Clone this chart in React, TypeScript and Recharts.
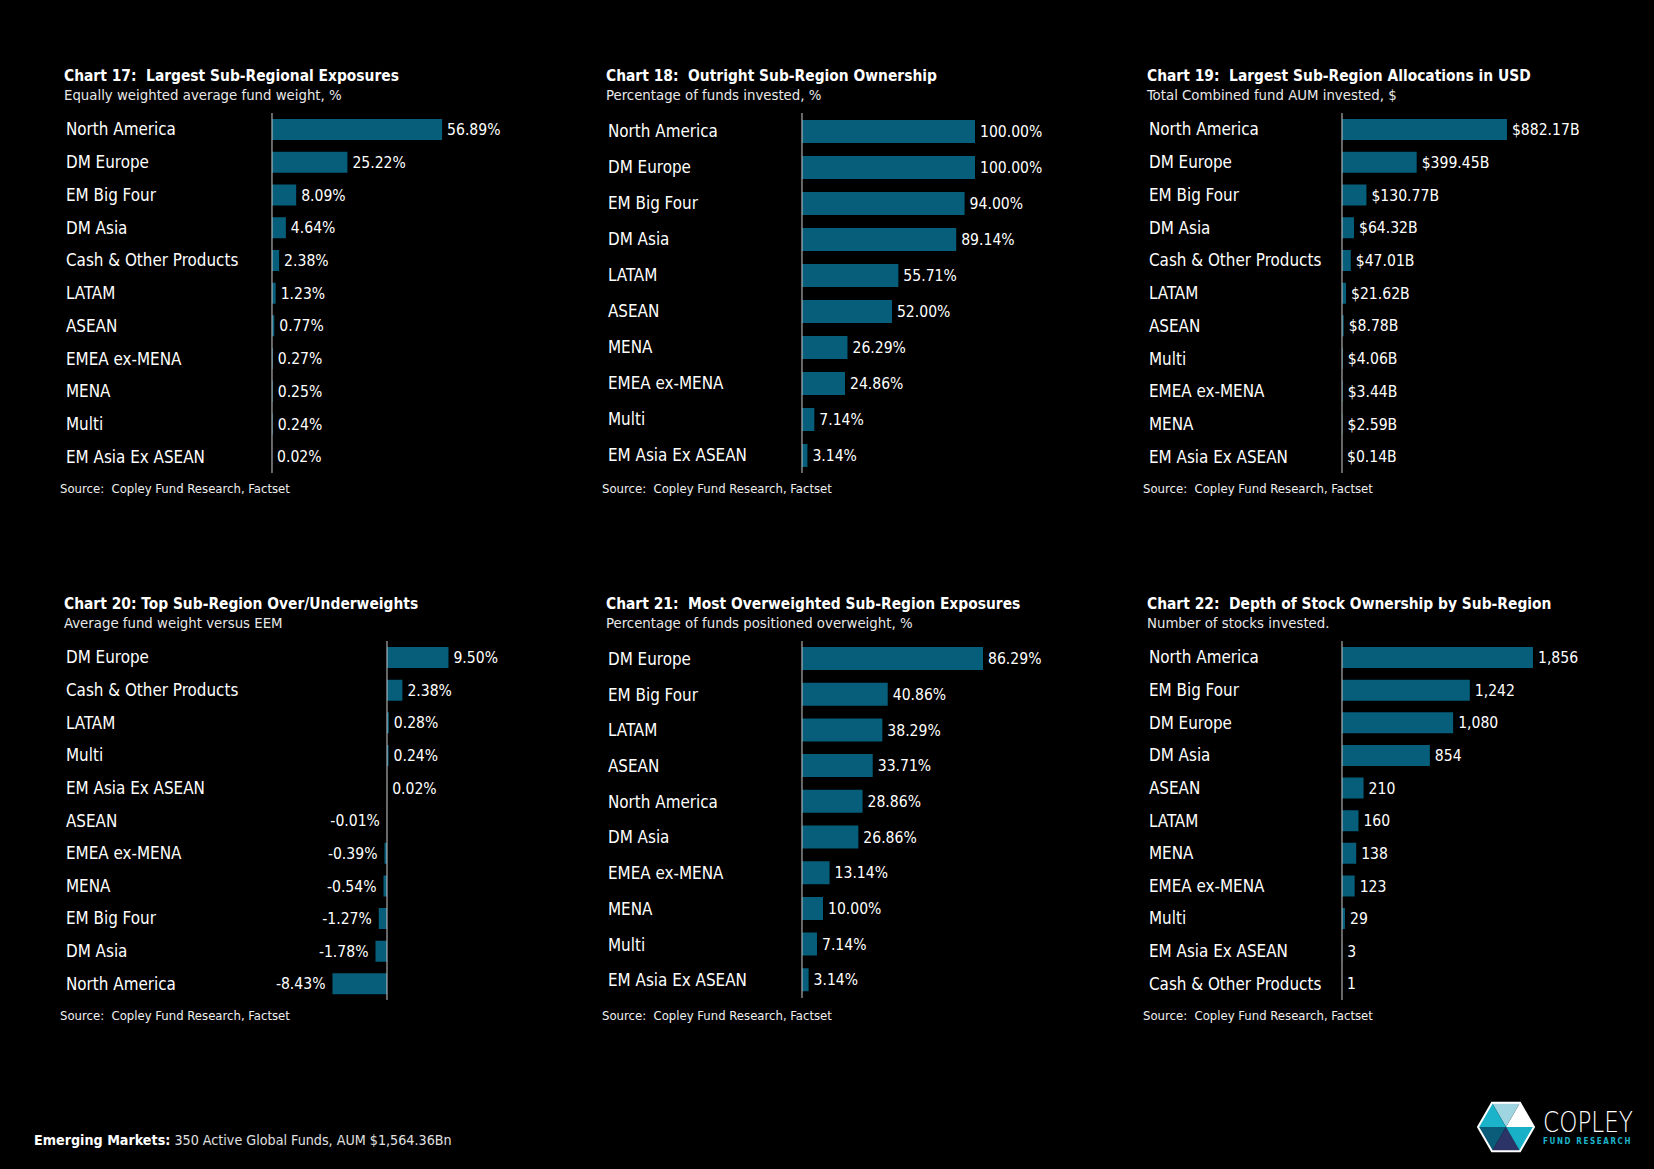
import React from "react"
import { Bar, BarChart, LabelList, ReferenceLine, XAxis, YAxis } from "recharts"

const BAR_FILL = "#065e7b"
const AXIS_LINE = "#cfcfcf"
const FONT = "'DejaVu Sans Condensed', 'DejaVu Sans', sans-serif"

// Chart 17: equally weighted average fund weight, %
const c17Names = ["North America", "DM Europe", "EM Big Four", "DM Asia", "Cash & Other Products", "LATAM", "ASEAN", "EMEA ex-MENA", "MENA", "Multi", "EM Asia Ex ASEAN"]
const c17Values = [56.89, 25.22, 8.09, 4.64, 2.38, 1.23, 0.77, 0.27, 0.25, 0.24, 0.02]

// Chart 18: percentage of funds invested, %
const c18Names = ["North America", "DM Europe", "EM Big Four", "DM Asia", "LATAM", "ASEAN", "MENA", "EMEA ex-MENA", "Multi", "EM Asia Ex ASEAN"]
const c18Values = [100, 100, 94.0, 89.14, 55.71, 52.0, 26.29, 24.86, 7.14, 3.14]

// Chart 19: total combined fund AUM invested, $B
const c19Names = ["North America", "DM Europe", "EM Big Four", "DM Asia", "Cash & Other Products", "LATAM", "ASEAN", "Multi", "EMEA ex-MENA", "MENA", "EM Asia Ex ASEAN"]
const c19Values = [882.17, 399.45, 130.77, 64.32, 47.01, 21.62, 8.78, 4.06, 3.44, 2.59, 0.14]

// Chart 20: average fund weight versus EEM, %
const c20Names = ["DM Europe", "Cash & Other Products", "LATAM", "Multi", "EM Asia Ex ASEAN", "ASEAN", "EMEA ex-MENA", "MENA", "EM Big Four", "DM Asia", "North America"]
const c20Values = [9.5, 2.38, 0.28, 0.24, 0.02, -0.01, -0.39, -0.54, -1.27, -1.78, -8.43]

// Chart 21: percentage of funds positioned overweight, %
const c21Names = ["DM Europe", "EM Big Four", "LATAM", "ASEAN", "North America", "DM Asia", "EMEA ex-MENA", "MENA", "Multi", "EM Asia Ex ASEAN"]
const c21Values = [86.29, 40.86, 38.29, 33.71, 28.86, 26.86, 13.14, 10.0, 7.14, 3.14]

// Chart 22: number of stocks invested
const c22Names = ["North America", "EM Big Four", "DM Europe", "DM Asia", "ASEAN", "LATAM", "MENA", "EMEA ex-MENA", "Multi", "EM Asia Ex ASEAN", "Cash & Other Products"]
const c22Values = [1856, 1242, 1080, 854, 210, 160, 138, 123, 29, 3, 1]

const pct = (v: number) => `${v.toFixed(2)}%`
const usd = (v: number) => `$${v.toFixed(2)}B`
const count = (v: number) => v.toLocaleString("en-US")

const ROWS = {
    top: { titleTop: 67, subTop: 86, plotTop: 113, plotBottom: 473, sourceTop: 481 },
    bottom: { titleTop: 595, subTop: 614, plotTop: 641, plotBottom: 1000, sourceTop: 1008 },
}
const COLS = [
    { titleX: 64, labelX: 66, sourceX: 60 },
    { titleX: 606, labelX: 608, sourceX: 602 },
    { titleX: 1147, labelX: 1149, sourceX: 1143 },
]

interface PanelProps {
    title: string
    subtitle: string
    names: string[]
    values: number[]
    format: (v: number) => string
    row: "top" | "bottom"
    col: number
    axisX: number
    pxPerUnit: number
    domain: [number, number]
    barSize: number
    plotBottom?: number
}

function Panel({ title, subtitle, names, values, format, row, col, axisX, pxPerUnit, domain, barSize, plotBottom }: PanelProps) {
    const r = ROWS[row]
    const c = COLS[col]
    const data = names.map((name, i) => ({ name, value: values[i] }))
    const chartLeft = c.labelX - 10
    const plotStart = axisX + domain[0] * pxPerUnit
    const plotEnd = axisX + domain[1] * pxPerUnit
    const yWidth = plotStart - chartLeft
    const rightPad = 110
    const width = plotEnd - chartLeft + rightPad
    const height = (plotBottom ?? r.plotBottom) - r.plotTop

    const renderTick = (props: any) => (
        <text x={10} y={props.y} dy="0.36em" fill="#ffffff" fontSize={16.9} fontFamily={FONT} textAnchor="start">
            {props.payload.value}
        </text>
    )

    const renderLabel = (props: any) => {
        const v = Number(props.value)
        const x0 = Number(props.x)
        const w = Number(props.width)
        const neg = v < 0
        const end = neg ? Math.min(x0, x0 + w) : Math.max(x0, x0 + w)
        return (
            <text
                x={neg ? end - 7 : end + 5}
                y={Number(props.y) + Number(props.height) / 2}
                dy="0.36em"
                fill="#ffffff"
                fontSize={15.6}
                fontFamily={FONT}
                textAnchor={neg ? "end" : "start"}
            >
                {format(v)}
            </text>
        )
    }

    return (
        <>
            <div style={{ position: "absolute", left: c.titleX, top: r.titleTop, color: "#ffffff", fontFamily: FONT, fontWeight: "bold", fontSize: 15.4, lineHeight: "19px", whiteSpace: "pre" }}>
                {title}
            </div>
            <div style={{ position: "absolute", left: c.titleX, top: r.subTop, color: "#e8e8e8", fontFamily: FONT, fontSize: 14.8, lineHeight: "18px", whiteSpace: "pre" }}>
                {subtitle}
            </div>
            <div style={{ position: "absolute", left: chartLeft, top: r.plotTop }}>
                <BarChart
                    width={width}
                    height={height}
                    data={data}
                    layout="vertical"
                    margin={{ top: 0, right: rightPad, bottom: 0, left: 0 }}
                    barSize={barSize}
                >
                    <XAxis type="number" domain={domain} hide allowDataOverflow />
                    <YAxis type="category" dataKey="name" width={yWidth} axisLine={false} tickLine={false} tick={renderTick} interval={0} />
                    <Bar dataKey="value" fill={BAR_FILL} isAnimationActive={false}>
                        <LabelList dataKey="value" content={renderLabel} />
                    </Bar>
                    <ReferenceLine x={0} stroke={AXIS_LINE} strokeWidth={1} />
                </BarChart>
            </div>
            <div style={{ position: "absolute", left: c.sourceX, top: r.sourceTop, color: "#f0f0f0", fontFamily: FONT, fontSize: 13, lineHeight: "16px", whiteSpace: "pre" }}>
                {"Source:  Copley Fund Research, Factset"}
            </div>
        </>
    )
}

function Logo() {
    const cx = 31
    const cy = 38
    const pts = [
        [59, 38],
        [45, 13.75],
        [17, 13.75],
        [3, 38],
        [17, 62.25],
        [45, 62.25],
    ]
    // top-right, top, top-left, bottom-left, bottom, bottom-right
    const fills = ["#ffffff", "#9fd4e1", "#1bb3c9", "#0b5c78", "#2c3467", "#17b0c7"]
    return (
        <svg style={{ position: "absolute", left: 1475, top: 1089, overflow: "visible" }} width={178} height={78}>
            {pts.map((p, i) => {
                const q = pts[(i + 1) % 6]
                return <polygon key={i} points={`${cx},${cy} ${p[0]},${p[1]} ${q[0]},${q[1]}`} fill={fills[i]} />
            })}
            <polygon points={pts.map((p) => p.join(",")).join(" ")} fill="none" stroke="#ffffff" strokeWidth={2} />
            <text x={68} y={43} fill="#ffffff" fontFamily="'DejaVu Sans', sans-serif" fontWeight={200} fontSize={28} textLength={90} lengthAdjust="spacingAndGlyphs">
                COPLEY
            </text>
            <text x={68} y={55} fill="#1bb3c9" fontFamily="'DejaVu Sans Condensed', 'DejaVu Sans', sans-serif" fontWeight="bold" fontSize={8} letterSpacing={1.6}>
                FUND RESEARCH
            </text>
        </svg>
    )
}

export default function App() {
    return (
        <div style={{ position: "fixed", left: 0, top: 0, width: 1654, height: 1169, background: "#000000", overflow: "hidden" }}>
            <Panel title="Chart 17:  Largest Sub-Regional Exposures" subtitle="Equally weighted average fund weight, %" names={c17Names} values={c17Values} format={pct} row="top" col={0} axisX={272} pxPerUnit={2.99} domain={[0, 80]} barSize={21} />
            <Panel title="Chart 18:  Outright Sub-Region Ownership" subtitle="Percentage of funds invested, %" names={c18Names} values={c18Values} format={pct} row="top" col={1} axisX={802} pxPerUnit={1.73} domain={[0, 130]} barSize={23} />
            <Panel title="Chart 19:  Largest Sub-Region Allocations in USD" subtitle="Total Combined fund AUM invested, $" names={c19Names} values={c19Values} format={usd} row="top" col={2} axisX={1342} pxPerUnit={0.187} domain={[0, 1200]} barSize={21} />
            <Panel title="Chart 20: Top Sub-Region Over/Underweights" subtitle="Average fund weight versus EEM" names={c20Names} values={c20Values} format={pct} row="bottom" col={0} axisX={387} pxPerUnit={6.47} domain={[-12, 15]} barSize={21} />
            <Panel title="Chart 21:  Most Overweighted Sub-Region Exposures" subtitle="Percentage of funds positioned overweight, %" names={c21Names} values={c21Values} format={pct} row="bottom" col={1} axisX={802} pxPerUnit={2.098} domain={[0, 100]} barSize={23} plotBottom={998} />
            <Panel title="Chart 22:  Depth of Stock Ownership by Sub-Region" subtitle="Number of stocks invested." names={c22Names} values={c22Values} format={count} row="bottom" col={2} axisX={1342} pxPerUnit={0.1029} domain={[0, 2200]} barSize={21} />
            <div style={{ position: "absolute", left: 34, top: 1131, color: "#ffffff", fontFamily: "'Liberation Sans Narrow', 'DejaVu Sans Condensed', sans-serif", fontSize: 14.2, lineHeight: "18px", whiteSpace: "pre" }}>
                <span style={{ fontWeight: "bold" }}>Emerging Markets:</span>
                <span style={{ color: "#e0e0e0" }}> 350 Active Global Funds, AUM $1,564.36Bn</span>
            </div>
            <Logo />
        </div>
    )
}
